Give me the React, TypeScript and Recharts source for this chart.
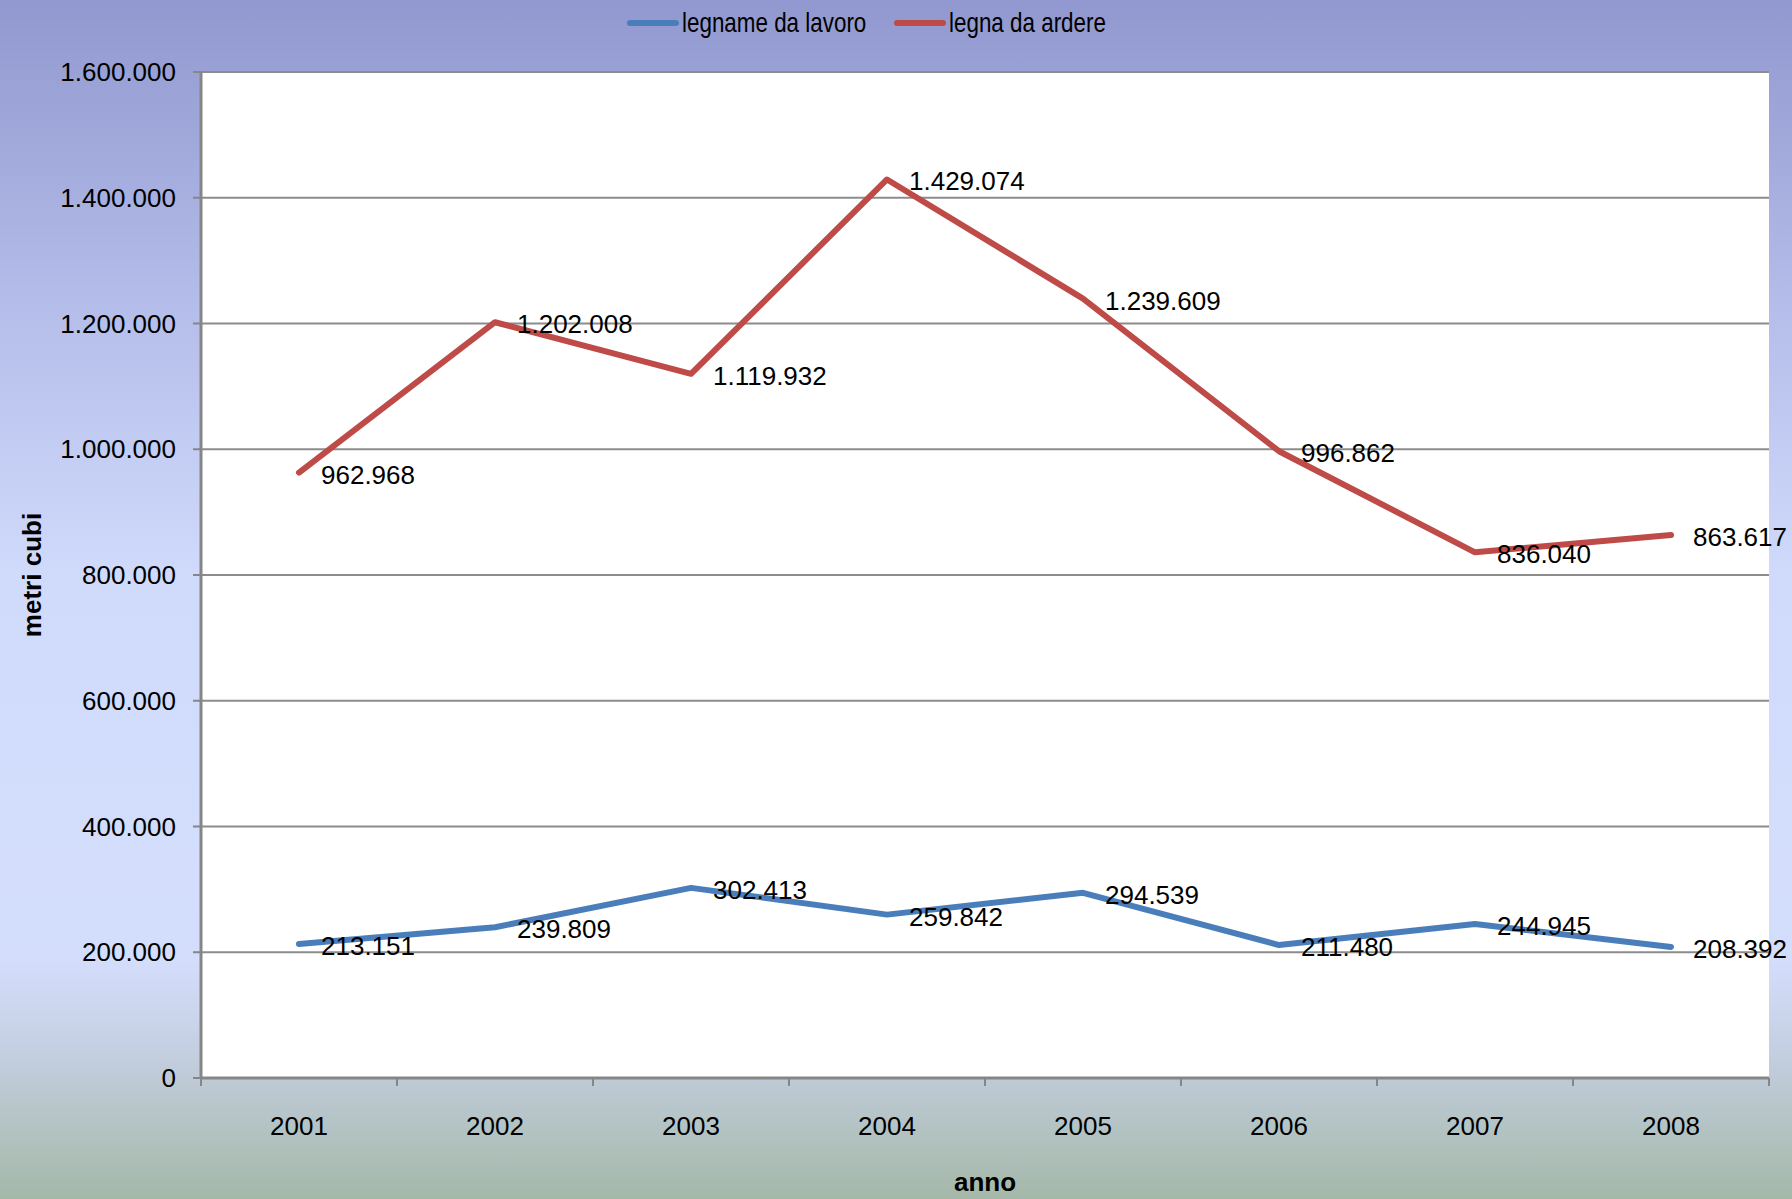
import { LineChart, Line, XAxis, YAxis, CartesianGrid, LabelList, Label } from "recharts";

const years = ["2001", "2002", "2003", "2004", "2005", "2006", "2007", "2008"];
const legnameDaLavoro = [213151, 239809, 302413, 259842, 294539, 211480, 244945, 208392];
const legnaDaArdere = [962968, 1202008, 1119932, 1429074, 1239609, 996862, 836040, 863617];
const yTicks = [0, 200000, 400000, 600000, 800000, 1000000, 1200000, 1400000, 1600000];

const series = [
  { key: "lavoro", name: "legname da lavoro", color: "#4a7ebb" },
  { key: "ardere", name: "legna da ardere", color: "#be4b48" },
];

const data = years.map((anno, i) => ({
  anno,
  lavoro: legnameDaLavoro[i],
  ardere: legnaDaArdere[i],
}));

const FONT = '"Liberation Sans", Arial, sans-serif';
const W = 1792;
const H = 1199;
const BAND = (1769 - 201) / years.length;

// 1.234.567 style, like the original
const fmt = (v: number) => String(v).replace(/\B(?=(\d{3})+(?!\d))/g, ".");

const YearTick = (props: any) => {
  const { x, y, payload } = props;
  return (
    <g>
      <line x1={x - BAND / 2} y1={y} x2={x - BAND / 2} y2={y + 8} stroke="#868686" strokeWidth={2} />
      <line x1={x + BAND / 2} y1={y} x2={x + BAND / 2} y2={y + 8} stroke="#868686" strokeWidth={2} />
      <text x={x} y={y + 57} textAnchor="middle" fontSize={26} fontFamily={FONT} fill="#000">
        {payload.value}
      </text>
    </g>
  );
};

const PointLabel = (props: any) => {
  const { x, y, value } = props;
  return (
    <text x={x + 22} y={y + 2} dominantBaseline="central" fontSize={26} fontFamily={FONT} fill="#000">
      {fmt(value)}
    </text>
  );
};

export default function App() {
  return (
    <div
      style={{
        position: "absolute",
        left: 0,
        top: 0,
        width: W,
        height: H,
        background:
          "linear-gradient(to bottom, #9098cf 0%, #b4bce9 25%, #d0dafb 48%, #d4defc 80%, #c6d0e4 87%, #a4b8a8 100%)",
      }}
    >
      <div
        style={{
          position: "absolute",
          top: 7,
          left: 627,
          display: "flex",
          gap: 37,
          fontFamily: FONT,
          fontSize: 28,
          color: "#000",
          whiteSpace: "nowrap",
        }}
      >
        {series.map((s) => (
          <div key={s.key} style={{ display: "flex", alignItems: "center", gap: 3 }}>
            <div style={{ width: 52, height: 6, borderRadius: 3, background: s.color }} />
            <span
              style={{
                display: "inline-block",
                transform: "scaleX(0.8)",
                transformOrigin: "left center",
                width: s.name.length * 10.3,
              }}
            >
              {s.name}
            </span>
          </div>
        ))}
      </div>
      <LineChart
        width={W}
        height={H}
        data={data}
        margin={{ top: 72, right: 23, bottom: 0, left: 0 }}
        style={{ position: "absolute", left: 0, top: 0 }}
      >
        <CartesianGrid vertical={false} stroke="#8c8c8c" strokeWidth={2} fill="#ffffff" />
        <XAxis
          dataKey="anno"
          height={121}
          padding={{ left: BAND / 2, right: BAND / 2 }}
          axisLine={{ stroke: "#868686", strokeWidth: 3 }}
          tickLine={false}
          tickSize={0}
          tickMargin={0}
          tick={<YearTick />}
        >
          <Label
            content={(p: any) => {
              const vb = p.viewBox;
              return (
                <text
                  x={vb.x + vb.width / 2}
                  y={vb.y + 113}
                  textAnchor="middle"
                  fontSize={26}
                  fontWeight="bold"
                  fontFamily={FONT}
                  fill="#000"
                >
                  anno
                </text>
              );
            }}
          />
        </XAxis>
        <YAxis
          width={201}
          domain={[0, 1600000]}
          ticks={yTicks}
          tickFormatter={fmt}
          axisLine={{ stroke: "#868686", strokeWidth: 3 }}
          tickLine={{ stroke: "#868686", strokeWidth: 2 }}
          tickSize={8}
          tickMargin={17}
          tick={{ fontSize: 26, fontFamily: FONT, fill: "#000" }}
        >
          <Label
            content={(p: any) => {
              const vb = p.viewBox;
              const cx = vb.x + 32;
              const cy = vb.y + vb.height / 2;
              return (
                <text
                  x={cx}
                  y={cy}
                  textAnchor="middle"
                  dominantBaseline="central"
                  transform={`rotate(-90 ${cx} ${cy})`}
                  fontSize={26}
                  fontWeight="bold"
                  fontFamily={FONT}
                  fill="#000"
                >
                  metri cubi
                </text>
              );
            }}
          />
        </YAxis>
        {series.map((s) => (
          <Line
            key={s.key}
            type="linear"
            dataKey={s.key}
            name={s.name}
            stroke={s.color}
            strokeWidth={6}
            strokeLinecap="round"
            strokeLinejoin="round"
            dot={false}
            activeDot={false}
            isAnimationActive={false}
          >
            <LabelList dataKey={s.key} content={<PointLabel />} />
          </Line>
        ))}
      </LineChart>
    </div>
  );
}
